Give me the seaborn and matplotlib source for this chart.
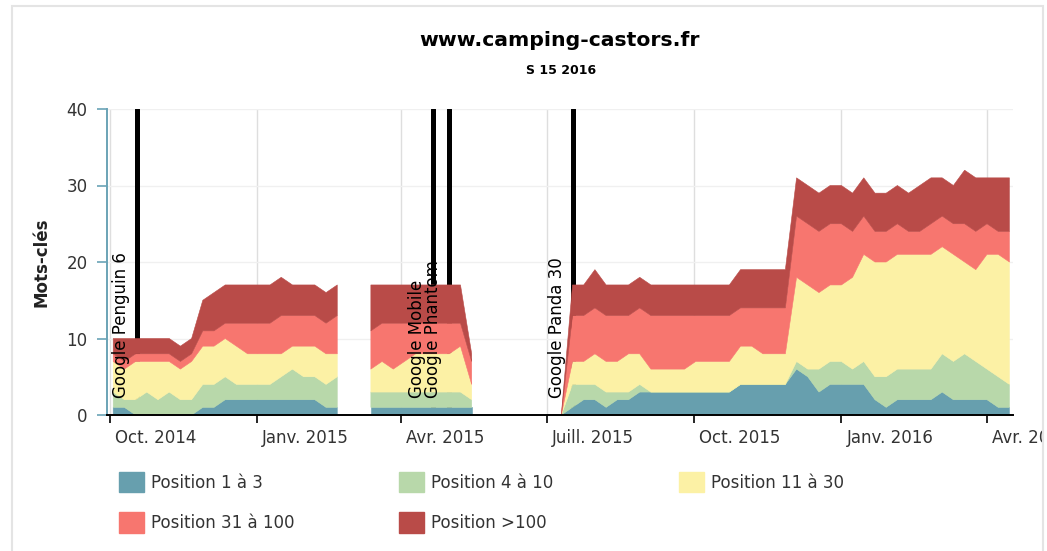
import numpy as np
import pandas as pd
import matplotlib
matplotlib.use("Agg")
import matplotlib.pyplot as plt
import matplotlib.dates as mdates
import matplotlib.transforms as mtransforms
from matplotlib.patches import Patch, Rectangle
import seaborn as sns

nan = np.nan

# ---------------- data (weekly, starting 2014-10-03) ----------------
week_start = "2014-10-03"
n_weeks = 81

pos_1_3 = ([1, 1, 0, 0, 0, 0, 0, 0, 1, 1, 2, 2, 2, 2, 2, 2, 2, 2, 2, 1, 1]
           + [nan, nan]
           + [1, 1, 1, 1, 1, 1, 1, 1, 1, 1]
           + [nan] * 7
           + [0, 1, 2, 2, 1, 2, 2, 3, 3, 3, 3, 3, 3, 3, 3, 3, 4, 4, 4, 4, 4,
              6, 5, 3, 4, 4, 4, 4, 2, 1, 2, 2, 2, 2, 3, 2, 2, 2, 2, 1, 1])
pos_4_10 = ([2, 1, 2, 3, 2, 3, 2, 2, 3, 3, 3, 2, 2, 2, 2, 3, 4, 3, 3, 3, 4]
            + [nan, nan]
            + [2, 2, 2, 2, 2, 2, 2, 2, 2, 1]
            + [nan] * 7
            + [0, 3, 2, 2, 2, 1, 1, 1, 0, 0, 0, 0, 0, 0, 0, 0, 0, 0, 0, 0, 0,
               1, 1, 3, 3, 3, 2, 3, 3, 4, 4, 4, 4, 4, 5, 5, 6, 5, 4, 4, 3])
pos_11_30 = ([4, 4, 5, 4, 5, 4, 4, 5, 5, 5, 5, 5, 4, 4, 4, 3, 3, 4, 4, 4, 3]
             + [nan, nan]
             + [3, 4, 3, 4, 5, 5, 5, 5, 6, 2]
             + [nan] * 7
             + [0, 3, 3, 4, 4, 4, 5, 4, 3, 3, 3, 3, 4, 4, 4, 4, 5, 5, 4, 4, 4,
                11, 11, 10, 10, 10, 12, 14, 15, 15, 15, 15, 15, 15, 14, 14, 12, 12, 15, 16, 16])
pos_31_100 = ([1, 1, 1, 1, 1, 1, 1, 1, 2, 2, 2, 3, 4, 4, 4, 5, 4, 4, 4, 4, 5]
              + [nan, nan]
              + [5, 5, 6, 5, 4, 4, 4, 4, 3, 3]
              + [nan] * 7
              + [0, 6, 6, 6, 6, 6, 5, 6, 7, 7, 7, 7, 6, 6, 6, 6, 5, 5, 6, 6, 6,
                 8, 8, 8, 8, 8, 6, 5, 4, 4, 4, 3, 3, 4, 4, 4, 5, 5, 4, 3, 4])
pos_100 = ([2, 3, 2, 2, 2, 2, 2, 2, 4, 5, 5, 5, 5, 5, 5, 5, 4, 4, 4, 4, 4]
           + [nan, nan]
           + [6, 5, 5, 5, 5, 5, 5, 5, 5, 1]
           + [nan] * 7
           + [0, 4, 4, 5, 4, 4, 4, 4, 4, 4, 4, 4, 4, 4, 4, 4, 5, 5, 5, 5, 5,
              5, 5, 5, 5, 5, 5, 5, 5, 5, 5, 5, 6, 6, 5, 5, 7, 7, 6, 7, 7])

series_names = ["Position 1 à 3", "Position 4 à 10", "Position 11 à 30",
                "Position 31 à 100", "Position >100"]
series_colors = ["#679fae", "#b8d8aa", "#fcf1a5", "#f7766f", "#b94b48"]

event_labels = ["Google Penguin 6", "Google Mobile", "Google Phantom", "Google Panda 30"]
event_dates = ["2014-10-18", "2015-04-21", "2015-05-01", "2015-07-17"]

tick_dates = ["2014-10-01", "2015-01-01", "2015-04-01", "2015-07-01",
              "2015-10-01", "2016-01-01", "2016-04-01"]
tick_labels = ["Oct. 2014", "Janv. 2015", "Avr. 2015", "Juill. 2015",
               "Oct. 2015", "Janv. 2016", "Avr. 2016"]

title_text = "www.camping-castors.fr"
subtitle_text = "S 15 2016"
ylabel_text = "Mots-clés"
y_ticks = [0, 10, 20, 30, 40]

# ---------------- figure ----------------
sns.set_theme(style="white")
plt.rcParams["font.family"] = ["DejaVu Sans"]
palette = sns.color_palette(series_colors)

W, H = 1047, 551
fig = plt.figure(figsize=(W / 100, H / 100), dpi=100)
fig.patch.set_facecolor("white")
ax = fig.add_axes([107 / W, 136 / H, 906 / W, 306 / H])

dates = pd.date_range(week_start, periods=n_weeks, freq="7D")
df = pd.DataFrame({n: v for n, v in zip(series_names,
                   [pos_1_3, pos_4_10, pos_11_30, pos_31_100, pos_100])}, index=dates)
cum = df.cumsum(axis=1)

xnum = mdates.date2num(dates.to_pydatetime())
prev = np.zeros(len(df))
for i, name in enumerate(series_names):
    upper = cum[name].to_numpy(dtype=float)
    ax.fill_between(xnum, prev, upper, facecolor=palette[i], edgecolor=palette[i],
                    linewidth=0.4, zorder=2)
    prev = np.where(np.isnan(upper), nan, upper)

# event lines and labels
offset = mtransforms.ScaledTranslation(-16 / 100, 0, fig.dpi_scale_trans)
for lab, d in zip(event_labels, event_dates):
    dn = mdates.date2num(pd.Timestamp(d).to_pydatetime())
    ax.axvline(dn, color="black", lw=3.6, zorder=1)
    ax.text(dn, 2.2, lab, rotation=90, ha="center", va="bottom", fontsize=12,
            color="black", zorder=5, transform=ax.transData + offset)

# axes limits / ticks
x0 = mdates.date2num(pd.Timestamp("2014-10-01").to_pydatetime())
ax.set_xlim(x0 - 3 / 1.6004, x0 + 903 / 1.6004)
ax.set_ylim(0, 40)
ax.set_yticks(y_ticks)
ax.set_yticklabels([str(t) for t in y_ticks])
tick_nums = [mdates.date2num(pd.Timestamp(d).to_pydatetime()) for d in tick_dates]
ax.set_xticks(tick_nums)
ax.set_xticklabels(tick_labels)

ax.tick_params(axis="x", direction="out", length=6, width=1.2, color="black",
               pad=4, labelsize=12, labelcolor="#333333", bottom=True)
ax.tick_params(axis="y", direction="out", length=7, width=1.2, color="#6aa3b6",
               pad=7, labelsize=12, labelcolor="#333333", left=True)

# left-aligned x tick labels, nudged right of their tick (after tick_params)
shift = mtransforms.ScaledTranslation(5 / 100, 0, fig.dpi_scale_trans)
for tick in ax.xaxis.get_major_ticks():
    tick.label1.set_ha("left")
    tick.label1.set_transform(tick.label1.get_transform() + shift)

ax.set_axisbelow(True)
ax.grid(axis="x", color="#dedede", lw=1.0)
ax.grid(axis="y", color="#f0f0f0", lw=1.0)

sns.despine(ax=ax, top=True, right=True)
ax.spines["left"].set_color("#6aa3b6")
ax.spines["left"].set_linewidth(1.4)
ax.spines["bottom"].set_color("black")
ax.spines["bottom"].set_linewidth(1.4)

ax.set_ylabel(ylabel_text, fontsize=12, fontweight="bold", color="#222222", va="center")
ax.yaxis.set_label_coords(-65 / 906, 0.5)

fig.text(560 / W, 1 - 40 / H, title_text, ha="center", va="center",
         fontsize=14.7, fontweight="bold", color="black")
fig.text(561 / W, 1 - 70 / H, subtitle_text, ha="center", va="center",
         fontsize=9, fontweight="bold", color="black")

# legend: three columns placed like the reference
legend_cols = [[0, 3], [1, 4], [2]]
legend_x = [119, 399, 679]
for col, xpx in zip(legend_cols, legend_x):
    handles = [Patch(facecolor=palette[i], edgecolor=palette[i]) for i in col]
    labels = [series_names[i] for i in col]
    fig.legend(handles, labels, loc="upper left", bbox_to_anchor=(xpx / W, 1 - 472 / H),
               ncol=1, frameon=False, fontsize=12, handlelength=1.5, handleheight=1.5,
               handletextpad=0.4, labelspacing=1.2,
               borderpad=0, borderaxespad=0, labelcolor="#333333")

# container border (clips the last tick label like the reference)
fig.patches.append(Rectangle((1044 / W, 0), 3 / W, 1, transform=fig.transFigure,
                             facecolor="white", edgecolor="none", zorder=9))
fig.patches.append(Rectangle((12 / W, -0.05), (1043 - 12) / W, 1.05 - 5.5 / H,
                             transform=fig.transFigure, fill=False,
                             edgecolor="#e4e4e4", lw=1.5, zorder=10))

fig.savefig("out.png", dpi=100)
